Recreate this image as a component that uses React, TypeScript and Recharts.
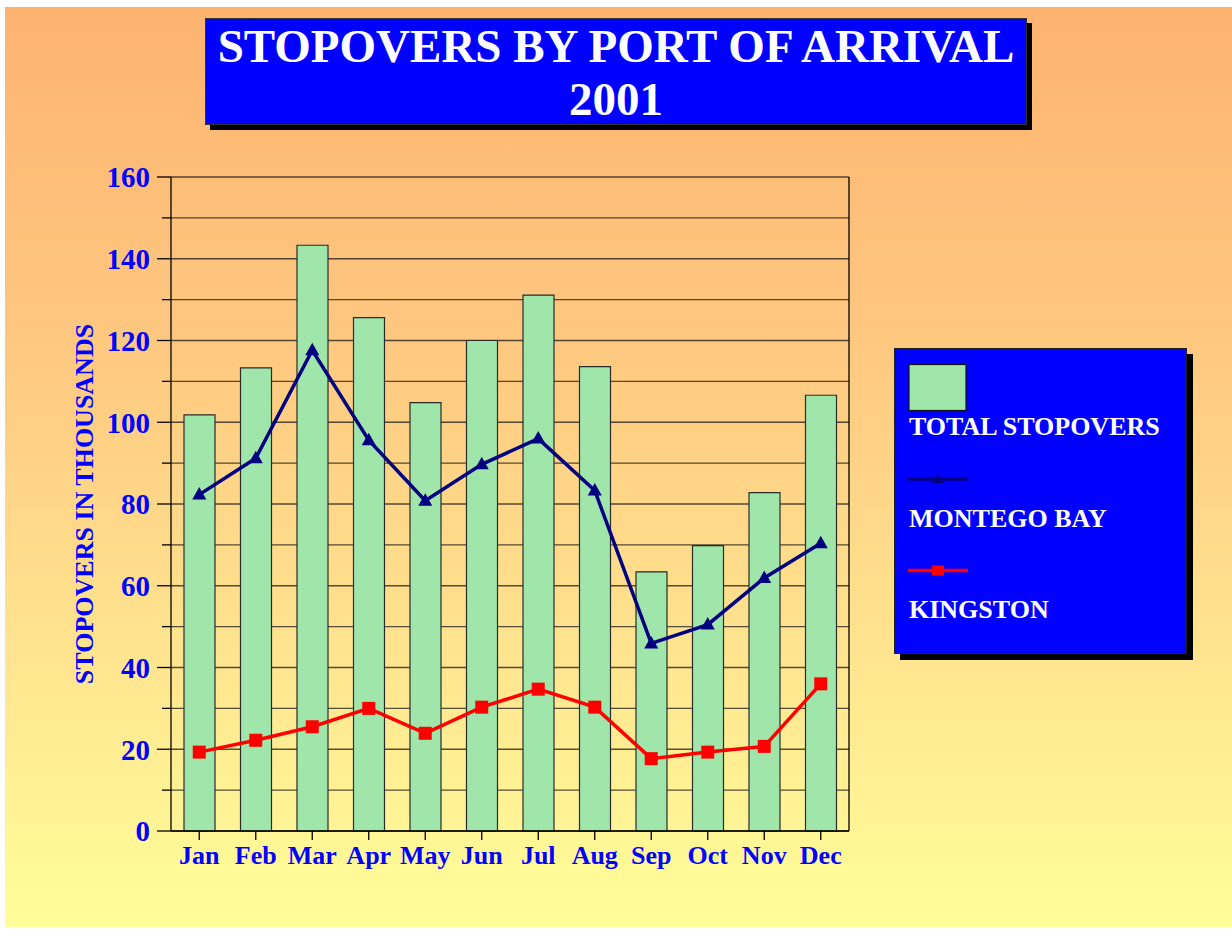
import React from "react";
import {
  Bar,
  CartesianGrid,
  ComposedChart,
  Legend,
  Line,
  XAxis,
  YAxis,
} from "recharts";

const months = ["Jan", "Feb", "Mar", "Apr", "May", "Jun", "Jul", "Aug", "Sep", "Oct", "Nov", "Dec"];
const totalStopovers = [101.8, 113.3, 143.3, 125.6, 104.8, 120.0, 131.1, 113.6, 63.4, 69.8, 82.8, 106.6];
const montegoBay = [82.3, 91.2, 117.6, 95.6, 80.8, 89.7, 96.0, 83.3, 45.9, 50.5, 61.9, 70.4];
const kingston = [19.3, 22.2, 25.5, 30.0, 23.9, 30.3, 34.7, 30.3, 17.7, 19.3, 20.7, 36.0];
const yTicks = [0, 10, 20, 30, 40, 50, 60, 70, 80, 90, 100, 110, 120, 130, 140, 150, 160];

const data = months.map((m, i) => ({
  month: m,
  total: totalStopovers[i],
  montego: montegoBay[i],
  kingston: kingston[i],
}));

const SERIF = '"Liberation Serif", "Times New Roman", serif';
const BLUE = "#0000FF";
const NAVY = "#000080";
const RED = "#FF0000";
const GREEN = "#A0E6AA";

function YTick(props: any) {
  const { x, y, payload } = props;
  const major = payload.value % 20 === 0;
  return (
    <g>
      <line x1={x - (major ? 14 : 9)} x2={x} y1={y} y2={y} stroke="#000" strokeWidth={1.3} />
      {major && (
        <text
          x={x - 21}
          y={y}
          dy="0.36em"
          textAnchor="end"
          fill={BLUE}
          fontFamily={SERIF}
          fontWeight="bold"
          fontSize={29}
        >
          {payload.value}
        </text>
      )}
    </g>
  );
}

function XTick(props: any) {
  const { x, y, payload } = props;
  return (
    <g>
      <line x1={x} x2={x} y1={y} y2={y + 9} stroke="#000" strokeWidth={1.3} />
      <text
        x={x}
        y={y + 33}
        textAnchor="middle"
        fill={BLUE}
        fontFamily={SERIF}
        fontWeight="bold"
        fontSize={26}
      >
        {payload.value}
      </text>
    </g>
  );
}

function TriangleDot(props: any) {
  const { cx, cy, index } = props;
  if (cx == null || cy == null) return <g key={index} />;
  return (
    <polygon
      key={index}
      points={`${cx},${cy - 7.5} ${cx - 7},${cy + 5} ${cx + 7},${cy + 5}`}
      fill={NAVY}
    />
  );
}

function SquareDot(props: any) {
  const { cx, cy, index } = props;
  if (cx == null || cy == null) return <g key={index} />;
  return <rect key={index} x={cx - 6.5} y={cy - 6.5} width={13} height={13} fill={RED} />;
}

// right edge of the plot frame, taken from the chart's own offset
const frameRight = ({ offset }: any) => [offset.left + offset.width];

const legendOrder = ["total", "montego", "kingston"];

function LegendBox(props: any) {
  const items = [...(props.payload || [])].sort(
    (a: any, b: any) => legendOrder.indexOf(a.dataKey) - legendOrder.indexOf(b.dataKey)
  );
  return (
    <div
      style={{
        boxSizing: "border-box",
        width: 293,
        height: 306,
        background: BLUE,
        border: "1.5px solid #222",
        boxShadow: "6px 6px 0 #000",
      }}
    >
      <svg width={290} height={303} style={{ display: "block" }}>
        {items.map((it: any, i: number) => {
          const base = 86 + 91.5 * i;
          const mid = base - 47.5;
          let icon;
          if (it.dataKey === "total") {
            icon = <rect x={14} y={mid - 23} width={57} height={46} fill={GREEN} stroke="#111" strokeWidth={1.2} />;
          } else if (it.dataKey === "montego") {
            icon = (
              <g>
                <line x1={13} x2={73} y1={mid} y2={mid} stroke={NAVY} strokeWidth={3.5} />
                <polygon points={`43,${mid - 5} 37,${mid + 4} 49,${mid + 4}`} fill={NAVY} />
              </g>
            );
          } else {
            icon = (
              <g>
                <line x1={13} x2={73} y1={mid} y2={mid} stroke={RED} strokeWidth={3.5} />
                <rect x={37} y={mid - 5} width={12} height={10} fill={RED} />
              </g>
            );
          }
          return (
            <g key={it.dataKey}>
              {icon}
              <text x={14} y={base} fill="#fff" fontFamily={SERIF} fontWeight="bold" fontSize={26}>
                {it.value}
              </text>
            </g>
          );
        })}
      </svg>
    </div>
  );
}

export default function App() {
  return (
    <div style={{ position: "absolute", left: 0, top: 0, width: 1232, height: 936 }}>
      <div
        style={{
          position: "absolute",
          left: 5,
          top: 7,
          width: 1227,
          height: 920,
          background: "linear-gradient(to bottom, #FDB370 0%, #FEC77F 35%, #FFE48F 70%, #FFFE99 100%)",
        }}
      />
      <div
        style={{
          position: "absolute",
          left: 205,
          top: 18,
          width: 822,
          height: 107,
          boxSizing: "border-box",
          background: BLUE,
          border: "1px solid #333",
          boxShadow: "5px 5px 0 #000",
          color: "#fff",
          fontFamily: SERIF,
          fontWeight: "bold",
          fontSize: 47,
          lineHeight: "53px",
          textAlign: "center",
          paddingTop: 1,
        }}
      >
        STOPOVERS BY PORT OF ARRIVAL
        <br />
        2001
      </div>
      <div style={{ position: "absolute", left: 0, top: 0 }}>
        <ComposedChart
          width={1232}
          height={936}
          data={data}
          margin={{ top: 177, right: 383, bottom: 45, left: 0 }}
        >
          <CartesianGrid vertical={false} stroke="#1a1a1a" strokeOpacity={0.75} strokeWidth={1.3} />
          <CartesianGrid
            horizontal={false}
            verticalCoordinatesGenerator={frameRight}
            stroke="#000"
            strokeWidth={1.3}
          />
          <XAxis
            dataKey="month"
            height={60}
            interval={0}
            tickSize={0}
            tickMargin={0}
            tickLine={false}
            axisLine={{ stroke: "#000", strokeWidth: 1.3 }}
            tick={<XTick />}
          />
          <YAxis
            width={171}
            domain={[0, 160]}
            ticks={yTicks}
            interval={0}
            tickSize={0}
            tickMargin={0}
            tickLine={false}
            axisLine={{ stroke: "#000", strokeWidth: 1.3 }}
            tick={<YTick />}
            label={{
              value: "STOPOVERS IN THOUSANDS",
              angle: -90,
              position: "insideLeft",
              offset: 84,
              style: {
                textAnchor: "middle",
                fill: BLUE,
                fontFamily: SERIF,
                fontWeight: "bold",
                fontSize: 26,
              },
            }}
          />
          <Bar
            dataKey="total"
            name="TOTAL STOPOVERS"
            fill={GREEN}
            stroke="#2a2a2a"
            strokeWidth={1.2}
            barSize={31}
            isAnimationActive={false}
          />
          <Line
            dataKey="montego"
            name="MONTEGO BAY"
            type="linear"
            stroke={NAVY}
            strokeWidth={3.5}
            dot={TriangleDot}
            activeDot={false}
            isAnimationActive={false}
          />
          <Line
            dataKey="kingston"
            name="KINGSTON"
            type="linear"
            stroke={RED}
            strokeWidth={3.5}
            dot={SquareDot}
            activeDot={false}
            isAnimationActive={false}
          />
          <Legend
            layout="vertical"
            align="center"
            verticalAlign="middle"
            wrapperStyle={{ left: 894, top: 348, width: 293, height: 306 }}
            content={LegendBox}
          />
        </ComposedChart>
      </div>
    </div>
  );
}
